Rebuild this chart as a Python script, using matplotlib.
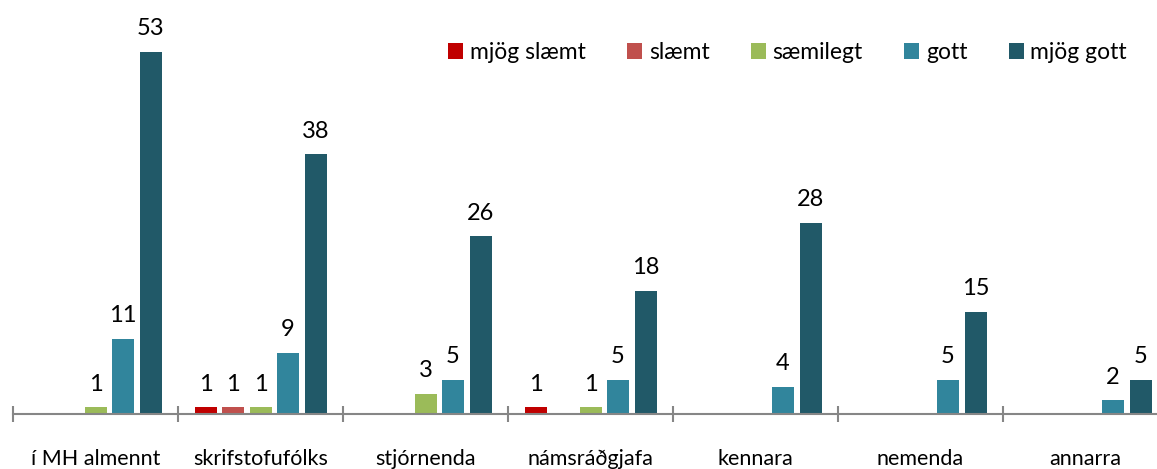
import numpy as np
import matplotlib
matplotlib.use("Agg")
import matplotlib.pyplot as plt

plt.rcParams["font.family"] = ["Lato", "DejaVu Sans"]

categories = ["í MH almennt", "skrifstofufólks", "stjórnenda", "námsráðgjafa",
              "kennara", "nemenda", "annarra"]
series = ["mjög slæmt", "slæmt", "sæmilegt", "gott", "mjög gott"]
mjog_slaemt = [0, 1, 0, 1, 0, 0, 0]
slaemt = [0, 1, 0, 0, 0, 0, 0]
saemilegt = [1, 1, 3, 1, 0, 0, 0]
gott = [11, 9, 5, 5, 4, 5, 2]
mjog_gott = [53, 38, 26, 18, 28, 15, 5]
values = [mjog_slaemt, slaemt, saemilegt, gott, mjog_gott]
colors = ["#c00000", "#c0504d", "#9bbb59", "#31859c", "#215968"]

W, H = 1157, 469
fig = plt.figure(figsize=(W / 100, H / 100), dpi=100)
ax = fig.add_axes([13 / W, 55 / H, 1155 / W, 410 / H])

x = np.arange(len(categories))
slot = 1 / 6
bw = slot * 0.8
for i, (name, vals, c) in enumerate(zip(series, values, colors)):
    pos = x + (i - 2) * slot
    v = np.array(vals, dtype=float)
    mask = v > 0
    ax.bar(pos[mask], v[mask], width=bw, color=c, label=name, zorder=2)
    for px, pv in zip(pos[mask], v[mask]):
        ax.annotate(f"{int(pv)}", (px, pv), xytext=(0, 9), textcoords="offset points",
                    ha="center", va="bottom", fontsize=17)

ax.set_xlim(-0.5, len(categories) - 0.5)
ax.set_ylim(0, 60)
for s in ["top", "right", "left"]:
    ax.spines[s].set_visible(False)
ax.spines["bottom"].set_color("#868686")
ax.spines["bottom"].set_linewidth(1.5)
ax.set_yticks([])
ax.set_xticks(x)
ax.set_xticklabels(categories, fontsize=15.5)
ax.tick_params(axis="x", which="major", length=0, pad=25)
ax.set_xticks(np.arange(len(categories) + 1) - 0.5, minor=True)
ax.tick_params(axis="x", which="minor", direction="inout", length=11, width=1.5, color="#868686")

ax.legend(loc="upper right", bbox_to_anchor=(1127 / W, 1 - 42 / H), bbox_transform=fig.transFigure,
          ncol=5, frameon=False, fontsize=16.5, handlelength=0.65, handleheight=0.65,
          handletextpad=0.3, columnspacing=1.8, borderaxespad=0, borderpad=0)

fig.savefig("out.png", dpi=100, facecolor="white")
